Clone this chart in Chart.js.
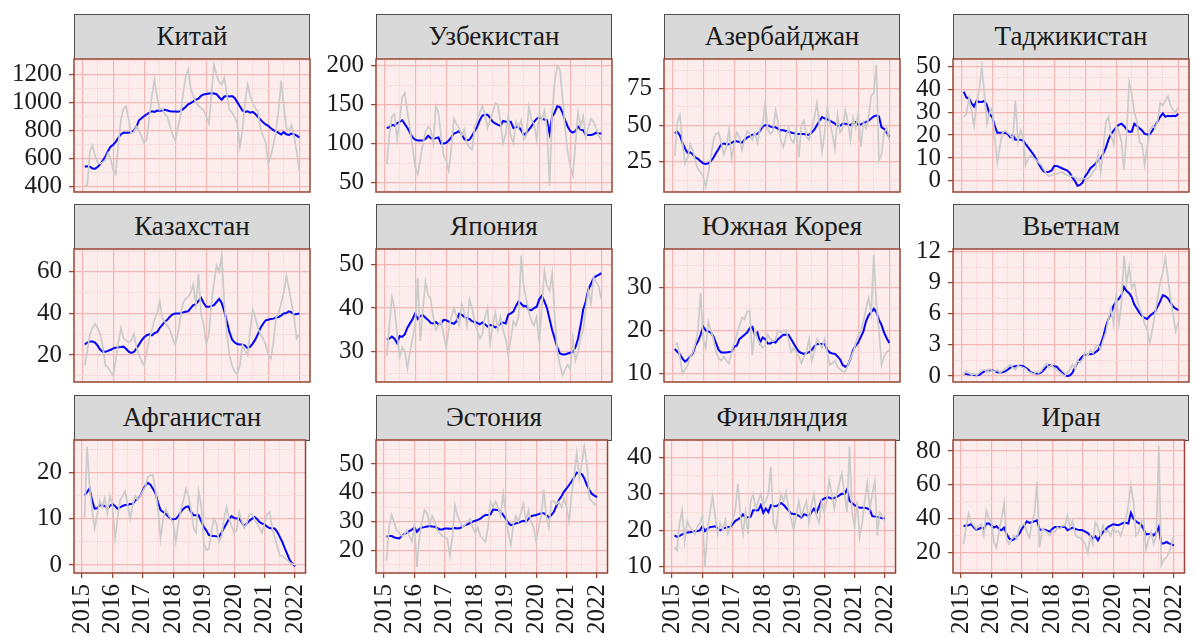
<!DOCTYPE html>
<html><head><meta charset="utf-8">
<script src="https://cdn.jsdelivr.net/npm/chart.js@4.4.0/dist/chart.umd.min.js"></script>
<style>
html,body{margin:0;padding:0;background:#fff;}
body{width:1198px;height:637px;overflow:hidden;position:relative;font-family:"Liberation Serif","Times New Roman",serif;}
.strip{position:absolute;background:#d9d9d9;border:1px solid #4d4d4d;box-sizing:border-box;text-align:center;color:#1a1a1a;font-size:27px;line-height:43px;}
canvas{position:absolute;}
</style></head><body>
<script>
// ---------- data (monthly, Feb 2015 .. Jan 2022) ----------
const startYear = 2015;
const monthCount = 84;
const yearTicks = [2015,2016,2017,2018,2019,2020,2021,2022];
const titles = ['Китай','Узбекистан','Азербайджан','Таджикистан','Казахстан','Япония','Южная Корея','Вьетнам','Афганистан','Эстония','Финляндия','Иран'];

const chinaRaw = [405,410,650,696,620,570,565,575,590,640,600,520, 490,700,880,960,975,880,780,790,830,800,760,710, 740,900,1050,1168,1040,950,960,920,900,830,770,730, 820,900,1060,1180,1241,1100,1050,1000,980,960,950,900, 853,1050,1273,1200,1150,1130,1180,1060,950,930,900,850, 684,800,1000,1132,1050,1000,960,940,820,760,720,562, 620,700,800,950,1160,980,820,800,840,760,650,514];
const chinaTrend = [543,545,543,530,528,540,560,587,615,655,685,700, 720,750,775,785,785,785,790,800,830,875,890,905, 918,930,940,935,945,943,945,950,945,940,938,938, 936,940,955,970,990,998,1010,1023,1030,1050,1060,1063, 1066,1068,1067,1062,1040,1022,1045,1048,1045,1048,1035,1005, 975,945,935,940,930,935,920,900,880,860,845,835, 818,805,795,785,773,790,775,770,780,775,765,752];
const chinaTicks = [400,600,800,1000,1200];

const uzbRaw = [73,110,135,138,105,130,160,165,140,120,95,70, 61,80,100,115,122,118,100,148,140,110,85,78, 65,95,132,125,120,110,118,100,95,92,120,130, 140,148,138,120,130,140,152,150,128,100,112,135, 110,100,128,120,130,105,110,147,130,125,105,140, 130,142,120,46,140,180,200,195,160,120,90,70, 59,100,140,122,135,108,120,132,128,120,110,105];
const uzbTrend = [120,121,124,123,126,128,130,125,120,114,108,105, 104,104,104,106,110,107,106,107,108,100,100,101, 104,108,113,114,116,112,106,104,105,110,116,122, 130,136,137,137,133,128,126,124,123,129,128,128, 128,120,121,122,117,111,114,118,122,128,132,134, 132,131,130,113,135,140,148,147,140,130,122,116, 114,116,122,118,117,111,111,111,112,114,113,113];
const uzbTicks = [50,100,150,200];

const azeRaw = [29,52,57,38,24,28,37,33,25,20,18,15, 8,18,28,40,44,45,38,30,35,47,27,37, 45,42,33,40,46,44,40,45,38,48,50,65, 47,44,46,60,52,40,35,42,48,40,38,47, 28,50,53,42,40,48,55,65,50,32,45,62, 52,44,34,57,45,48,60,52,40,55,48,58, 35,52,48,55,70,72,91,26,30,45,48,40];
const azeTrend = [44.5,45.5,43,38,34,31,31.5,30,28,27,25.5,24, 23.5,24,25.5,28,31,34,37,37.5,37,37,38,39, 39,38.5,38,40,41.5,42.5,43.5,43.5,44,46,49,50, 50,49,48.5,48.5,47.5,46.5,46.5,46,45.5,45,44.5,44, 44,44,44,43.5,43.5,45,47,50,53,55.5,54.5,54, 53,52,51,49.5,49.5,51,51,50.5,50,51.5,52,50.5, 50.5,51.5,52,53,54.5,56,56.5,56,48.5,47.5,45,42];
const azeTicks = [25,50,75];

const tjkRaw = [28,29,36,31,24,34,40,50,38,25,30,32, 18,8,15,21,22,21,20,18,35,17,22,19, 7,10,11,10,9,8,7,5,3,2,2.5,3, 3,3.5,4,3,2.5,2,2,1.5,1,0.8,0.8,1, 1,2,4,5,12,4,14,26,28,20,16,24, 22,17,5,20,43,38,30,26,17,16,7,15, 22,24,23,26,34,33,35,37,33,31,30,32];
const tjkTrend = [39,36.5,36,34,32.5,35,34.5,34.5,35,33,29,28, 24,21,21,21,21,20.5,19,20,18,18,18,17.5, 16,14.5,13,11.5,9.5,7.5,5.5,4,3.8,4,4.5,6.5, 6.5,6,5.5,5,4.5,3.5,1.5,0,-2.2,-1.8,-0.7,2, 3.5,5.5,6.5,7.5,9,10,12,14.5,18,20.5,22,23.5, 24.5,25,24,22.5,21.5,21.5,25,24,23,22,20.5,20.3, 20.4,22,24,26,28,29.5,28,28.5,28.3,28.5,28.3,29.3];
const tjkTicks = [0,10,20,30,40,50];

const kazRaw = [15,22,30,33,35,33,30,24,15,14,12,10, 18,26,33,28,27,26,27,30,24,20,17,15, 22,28,32,37,40,46,38,36,34,32,28,25, 30,38,45,47,48,50,54,44,59,40,35,25, 30,45,55,63,60,68,45,30,20,15,12,11, 15,25,22,20,32,42,38,33,30,28,25,20, 18,26,38,40,45,50,58,52,45,38,28,30];
const kazTrend = [25,26,26.5,26.5,26,24.5,22.5,21.6,21.6,22,22.5,23.2, 23.5,23.7,23.8,24,23,21.6,21,21.5,23,25,27,28.5, 29.5,30,29.5,30.5,31,33,34.5,36,37,38.5,39.5,40, 40,40,40.5,40.8,41,42.5,44,44.5,46,47.5,45,43.2, 43.2,43.5,44,45.5,47,45,41,36,31,27.5,26,25.3, 25,25,24.5,23.2,24,25.5,27.5,30,33,35,36.7,37, 37.3,37.5,38,38.3,39,40,40.2,41,40.5,39.5,39.7,40];
const kazTicks = [20,40,60];

const jpnRaw = [29,36,42.5,40,34,28.8,31,30,26.2,30,33,36, 46.9,32.5,40,46,43,42,38,35,36,37,34,31, 35,38,40,38,36,41,39,36,42,40,37,35, 33,34,38,40,32,36,39,35,38,35,33,29.2, 33,37,36,38,52,45,42,39,37,36,38,32, 40,48.5,45,44,48,38,30,27,24.6,26,27,26, 33,28,30,33,35,40,44,41,47,46,45,42];
const jpnTrend = [32.8,33,33.5,33,32,33.6,33.4,34,35.5,36.5,37.5,38.8, 37.5,38.2,38.4,37.8,37.3,36.6,36.5,36.8,36.3,36.5,37.3,37.2, 36.9,36.6,36.4,37,38.7,38.5,38,37.7,37.5,37,36.8,36.6, 36.3,36.7,36.3,35.8,36.1,36,35.6,35.8,36.5,36.7,36.5,38.5, 38.8,39.2,40.5,41.5,41,40.4,40.5,39.6,39.5,40,40.3,42, 42.8,41.5,40,37.5,35,33,31,29.6,29.4,29.4,29.6,29.8, 30,31,33,36,39.6,41.5,44.2,45.5,46.8,47.3,47.6,48];
const jpnTicks = [30,40,50];

const korRaw = [16.7,17,14,10.1,11,12,14,15,17,20,28.7,18, 16,22,20,18,15,13.5,13,14,13,12.4,15,17, 19,21,23,22.5,24.4,24.5,14.3,20,18,17,16,16.5, 19,18,17.5,18,20,19.5,20,20,18,15,16,15, 14,12.4,14,15,18,13,15,18,17,16,18,15, 12,12.5,13,11.5,11,10.5,10.5,12,13.5,15,17,19, 20,22,25,27.5,24,37.4,26,20,12,14,15,15.5];
const korTrend = [15.7,15.1,14.5,13.5,12.8,13.3,14,14.7,16.5,17.5,19,20.9, 20,19.8,19.5,18.6,17,15.5,14.9,14.9,14.9,15,15.1,16.3, 16.5,18,18.5,19,19.5,20.5,20.8,19,19.5,17.2,18.4,18, 17,17,17.4,17.2,18,18.5,19,19,19,18,17,16, 15.1,14.8,14.6,14.8,15,15.5,16.3,16.9,16.9,16.9,16.9,15.5, 14.9,14.7,14.6,14,13.3,12,11.6,12,13.5,15.5,16.5,17.2, 18.5,19.8,22.1,23.5,24.2,25,24.2,22.5,21.3,19.5,18.2,17.1];
const korTicks = [10,20,30];

const vnmRaw = [0.2,0.5,0.3,0.1,0.2,0.1,0.3,0.5,0.6,0.4,0.7,0.5, 0.4,0.6,0.3,0.5,0.7,0.9,1.1,0.8,0.6,1,0.9,0.8, 0.7,0.4,0.3,0.2,0.4,0.3,0.5,0.9,1.2,0.8,1.1,0.7, 0.6,0.4,0.2,0,0.3,0.6,1.1,0.7,1.5,1.3,1.6,2.3, 2,2.5,2.2,2.8,3,2.6,3.5,4.2,5.5,6.5,5,8, 5,7,11.6,9,10.5,8.5,9,7.5,6.5,6,5,4.5, 3.2,4.5,6,7.5,9,10,11.4,9.5,7.5,6,4.3,5.2];
const vnmTrend = [0.25,0.18,0.14,0.12,0.1,0.08,0.1,0.3,0.45,0.5,0.55,0.56, 0.45,0.35,0.33,0.35,0.45,0.6,0.8,0.9,0.95,1,1,0.95, 0.8,0.6,0.35,0.3,0.25,0.24,0.35,0.6,0.9,1.05,1,0.95, 0.9,0.6,0.35,0.1,0,0.05,0.3,0.8,1.3,1.6,1.9,2.1, 2.1,2.1,2.15,2.3,2.5,3.1,3.8,4.8,5.5,6.1,6.8,7.2, 7.45,7.8,8.6,8.2,8,7.6,6.9,6.5,6.1,5.8,5.6,5.5, 5.8,6,6.2,6.7,7.2,7.8,7.7,7.5,7.1,6.7,6.5,6.35];
const vnmTicks = [0,3,6,9,12];

const afgRaw = [10,25.6,17,12,7.9,11,14,12.5,14.5,11,15,13, 5.7,10,14,15,16,13,10,13,15,14,15,16, 17,19.1,19.5,19.5,16,12,5.7,10,12,11,10,9, 5,9,12,14,16.6,15,12,8,7,16,13,5, 3.2,3.5,7,10,9,5,6,10,12.6,10,8.5,7, 7.5,11.5,9.5,8,9,11,11,10,9,8,7,9, 11,11.5,8,6,4,2,2,1.5,1,0.5,0.2,0];
const afgTrend = [15.1,15.8,16.6,14,12.2,12.3,13,12.9,12.8,12.2,12.8,13.2, 12.8,12.2,12.5,12.8,13,13,13.2,13.2,14,14.3,15,16.2, 17.2,17.8,17.4,16.5,15.5,13.5,11.9,11.5,11.1,10.5,10,9.9, 10,10.6,11.5,12.2,12.6,12.7,11.5,10.8,10.8,10.8,9.5,8.3, 7.5,6.5,6.3,6.3,6.2,6.1,7,8,9,10,10.6,10.2, 10.1,10.1,9.2,8.4,9,9.6,10,10.4,10,9.3,9,8.8, 8.3,8,7.9,7.9,7.2,6.1,5,3.6,2.3,1,0.3,-0.3];
const afgTicks = [0,10,20];

const estRaw = [16.4,28,32.3,30,27,26,25,25.5,27,25,23,28.5, 14.3,25,30,34,33,29,32,30,27,26,25,24.5, 24,18.1,25,35.7,32,30,28,29,30,31,28,26, 28,25,24,23,28,37,35,37,35,32,39.8,33, 26,21.8,29,32,30,33,36.3,30,34,30,28,23, 28,32,41,32,28,37,37,36,37,35,38,35, 30,40,46,53.7,45,50,56,50,38,37,36,36];
const estTrend = [24.8,25,25,24.6,24.3,24.2,25,25.7,26.2,26.7,27.2,28, 26.5,27.5,28,28.1,28.3,28.5,28.3,28.2,27.8,27.3,27.3,27.6, 27.6,27.5,27.6,27.8,27.6,27.8,28.3,28.8,29.1,29.6,30,30.3, 30.6,31,31.8,32.3,32.3,32.5,34.2,34.1,34,33.5,32.3,31, 29.6,28.8,29,29.4,29.6,30,30.3,30,31,31.9,32.1,32.3, 32.6,32.9,32.9,32.3,31.5,32.3,33.4,35.5,37.5,38.8,40.4,41.5, 42.7,44,45.4,47,46.8,46.5,45,42.7,41,39.6,39,38.5];
const estTicks = [20,30,40,50];

const finRaw = [15.4,14.5,22,25.5,17,22.5,21,20,19,21,22,23.9, 9.9,20,25,29.4,24,19,22,20,23,19,21,23, 26,32.8,24,19,25,19,28,30,26,28,30,27, 28,30,37.4,22,20,26,30,28,30.5,26,23,20, 24,28,24,26,28,22,27,30,24,22,28,25, 28,33.8,30,26,30,33,35.6,30,25,43.1,25,21, 28,18.2,22,28,33,26,30,33.5,18.6,25,24,22];
const finTrend = [18.6,18.2,18.5,18.9,19.2,19.4,19.5,19.6,19.7,19.8,20,21.1, 19.8,20.5,20.9,21,21.1,20.5,20,20.5,20.7,20.9,21,21.8, 22.6,23,23.5,24.4,23.5,23.6,23.7,25.5,25.5,25.5,26.9,24.8, 26,25,26.9,26.7,26.6,27,27.5,27,26.2,25.4,24.6,24.5, 24.4,24,23.5,24.4,24.2,23.9,25,26,24.8,26.5,28.3,28.7, 29,29,28.7,28.9,29.2,29.6,30.1,29.9,31.2,28.1,27.5,26.9, 26.5,26.2,26.2,26.2,26,25.7,23.9,23.8,23.7,23.5,23.3,23.2];
const finTicks = [10,20,30,40];

const irnRaw = [25,35,43,38,36,34,36,37,30,45,40,38, 26,23,33,40,49,28,25,28,30,28,35,36, 37,32,29,38,43,61.8,23,34,33,32,30,33, 32,35,34,36,36,42,35,39,31,29,29,27, 25,19.8,30,25,38,35,30,36,32,33,30,35, 32,33,30,35,40,48,59.9,50,30,32,38,40, 22,28,32,25,30,83,12.5,16,17,20,25,30];
const irnTrend = [35.6,36,36.2,36.8,35,33.6,34,34.8,34,37.2,37.2,36, 34.8,35.6,34,33.2,34.8,31,28.3,27.3,28,29.3,31.2,34, 36.2,38.5,37.6,38.1,38.5,39.1,33.6,33.6,33.6,33,32.4,34, 35.2,35.2,35.2,35.2,35.2,33.2,34,34.8,34,33.6,33.4,33.2, 32.4,31.6,30,28.3,29.7,27.3,30,32.2,33.5,35.2,36,36.8, 36.5,36.2,36.8,37.6,37.6,37.2,43.5,40.1,38.5,37.5,36.8,34, 30.8,31,31.2,30.2,32,35.2,25.3,25.5,26.3,25.5,24.9,24.3];
const irnTicks = [20,40,60,80];

// ---------- panel table built from the arrays ----------
const panels = [
  {raw:chinaRaw, trend:chinaTrend, ticks:chinaTicks, lim:[361,1314]},
  {raw:uzbRaw,   trend:uzbTrend,   ticks:uzbTicks,   lim:[37.8,208.7]},
  {raw:azeRaw,   trend:azeTrend,   ticks:azeTicks,   lim:[4.5,95]},
  {raw:tjkRaw,   trend:tjkTrend,   ticks:tjkTicks,   lim:[-4.9,53.3]},
  {raw:kazRaw,   trend:kazTrend,   ticks:kazTicks,   lim:[7,71]},
  {raw:jpnRaw,   trend:jpnTrend,   ticks:jpnTicks,   lim:[23.1,53.5]},
  {raw:korRaw,   trend:korTrend,   ticks:korTicks,   lim:[8.1,38.8]},
  {raw:vnmRaw,   trend:vnmTrend,   ticks:vnmTicks,   lim:[-0.58,12.26]},
  {raw:afgRaw,   trend:afgTrend,   ticks:afgTicks,   lim:[-1.74,27.1]},
  {raw:estRaw,   trend:estTrend,   ticks:estTicks,   lim:[12.2,58.3]},
  {raw:finRaw,   trend:finTrend,   ticks:finTicks,   lim:[8.3,44.8]},
  {raw:irnRaw,   trend:irnTrend,   ticks:irnTicks,   lim:[8,86.5]}
];

// ---------- layout / style ----------
const colLeft = [74, 376, 664, 953];
const rowTop = [59, 249, 440];
const plotW = 236, plotH = 133, stripH = 45;
const axW = 70, pad = 22;
const FONT = '"Liberation Serif","Times New Roman",serif';
const BG = '#fcecec', MAJOR = '#f2b6b6', MINOR = '#f8d5d5', BORDER = '#984535';
const monthX = Array.from({length: monthCount}, (_, i) => startYear + (i + 1) / 12);
const xSpan = monthX[monthCount - 1] - monthX[0];
const xMin = monthX[0] - 0.05 * xSpan, xMax = monthX[monthCount - 1] + 0.05 * xSpan;
const xMinor = yearTicks.slice(0, -1).map(y => y + 0.5);

function isIn(arr, v){ return arr.some(a => Math.abs(a - v) < 1e-9); }

const panelPlugin = {
  id: 'panelBox',
  beforeDraw(chart){
    const a = chart.chartArea, c = chart.ctx;
    c.save(); c.fillStyle = BG; c.fillRect(a.left, a.top, a.right - a.left, a.bottom - a.top); c.restore();
  },
  afterDraw(chart){
    const a = chart.chartArea, c = chart.ctx;
    c.save(); c.strokeStyle = BORDER; c.lineWidth = 1.5;
    c.strokeRect(a.left, a.top, a.right - a.left, a.bottom - a.top); c.restore();
  }
};

panels.forEach((p, k) => {
  const col = k % 4, row = Math.floor(k / 4);
  const L = colLeft[col], T = rowTop[row];
  const bottom = row === 2;
  const axH = bottom ? 70 : 1;

  const strip = document.createElement('div');
  strip.className = 'strip';
  strip.style.left = L + 'px'; strip.style.top = (T - stripH) + 'px';
  strip.style.width = plotW + 'px'; strip.style.height = (stripH + 1) + 'px';
  strip.textContent = titles[k];
  document.body.appendChild(strip);

  const cv = document.createElement('canvas');
  cv.width = axW + plotW + pad; cv.height = pad + plotH + axH + pad;
  cv.style.left = (L - axW) + 'px'; cv.style.top = (T - pad) + 'px';
  document.body.appendChild(cv);

  const step = p.ticks[1] - p.ticks[0];
  const yMinor = [];
  [p.ticks[0] - step / 2, ...p.ticks.map(t => t + step / 2)].forEach(v => { if (v > p.lim[0] && v < p.lim[1]) yMinor.push(v); });
  const yAll = [...p.ticks.filter(v => v >= p.lim[0] && v <= p.lim[1]), ...yMinor].sort((a, b) => a - b);
  const xAll = [...yearTicks, ...xMinor].sort((a, b) => a - b);

  new Chart(cv, {
    type: 'line',
    data: { datasets: [
      { data: p.raw.map((v, i) => ({x: monthX[i], y: v})), borderColor: '#cbcbcb', borderWidth: 1.7, pointRadius: 0, tension: 0, fill: false },
      { data: p.trend.map((v, i) => ({x: monthX[i], y: v})), borderColor: '#0000ff', borderWidth: 2, pointRadius: 0, tension: 0, fill: false }
    ]},
    options: {
      responsive: false, animation: false, events: [],
      layout: { padding: { left: 0, right: pad, top: pad, bottom: pad } },
      plugins: { legend: { display: false }, tooltip: { enabled: false } },
      scales: {
        x: {
          type: 'linear', min: xMin, max: xMax,
          afterBuildTicks: s => { s.ticks = xAll.map(v => ({value: v})); },
          afterFit: s => { s.height = axH; },
          border: { display: false },
          grid: {
            color: c => isIn(yearTicks, c.tick.value) ? MAJOR : MINOR,
            lineWidth: c => isIn(yearTicks, c.tick.value) ? 1.2 : 0.7,
            drawTicks: bottom, tickLength: 5,
            tickColor: c => isIn(yearTicks, c.tick.value) ? BORDER : 'rgba(0,0,0,0)', tickWidth: 1.3
          },
          ticks: {
            display: bottom, autoSkip: false, minRotation: 90, maxRotation: 90, padding: 6,
            color: '#1a1a1a', font: { family: FONT, size: 25 },
            callback: v => isIn(yearTicks, v) ? String(Math.round(v)) : ''
          }
        },
        y: {
          type: 'linear', min: p.lim[0], max: p.lim[1],
          afterBuildTicks: s => { s.ticks = yAll.map(v => ({value: v})); },
          afterFit: s => { s.width = axW; },
          border: { display: false },
          grid: {
            color: c => isIn(p.ticks, c.tick.value) ? MAJOR : MINOR,
            lineWidth: c => isIn(p.ticks, c.tick.value) ? 1.2 : 0.7,
            drawTicks: true, tickLength: 5,
            tickColor: c => isIn(p.ticks, c.tick.value) ? BORDER : 'rgba(0,0,0,0)', tickWidth: 1.3
          },
          ticks: {
            autoSkip: false, padding: 7, color: '#1a1a1a', font: { family: FONT, size: 25 },
            callback: v => isIn(p.ticks, v) ? String(v) : ''
          }
        }
      }
    },
    plugins: [panelPlugin]
  });
});
</script>
</body></html>
